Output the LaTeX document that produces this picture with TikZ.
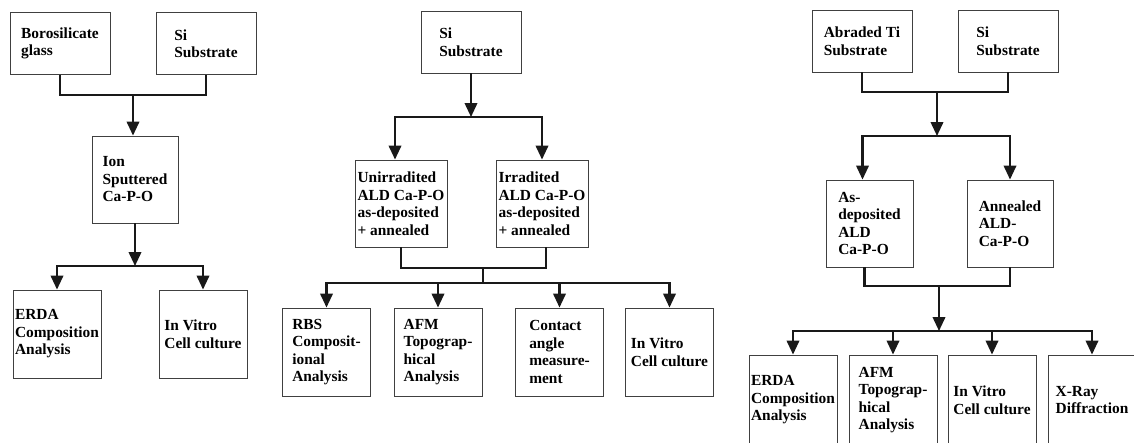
\documentclass[tikz,border=0pt]{standalone}
\usepackage{fontspec}
\setmainfont{Liberation Serif}
\usetikzlibrary{arrows.meta, positioning}

\begin{document}
\begin{tikzpicture}[
        x=1pt, y=-1pt,
        font=\fontsize{15.4}{17.5}\selectfont\bfseries,
        % Define Styles
        box/.style={rectangle, draw=black!75, line width=0.9pt, align=left, inner sep=0pt, minimum width=88pt, minimum height=88pt},
        subbox/.style={box, minimum width=100pt, minimum height=62pt},
        midbox/.style={box, minimum height=87pt},
        line/.style={line width=2.2pt, draw=black!90},
        arrow/.style={line, -{Triangle[length=14pt, width=12.5pt]}}
    ]
    \clip (0,0) rectangle (1134,442);

    % --- PANEL 1 (Ion sputtered) ---
    \node[subbox] (boro) at (60,43.5) {Borosilicate\\glass};
    \node[subbox] (si1) at (206,43.5) {Si\\Substrate};
    \node[midbox, minimum width=86pt] (ion) at (135,179.5) {Ion\\Sputtered\\Ca-P-O};
    \node[box] (erda1) at (57,334) {ERDA\\Composition\\Analysis};
    \node[box] (vitro1) at (203,334) {In Vitro\\Cell culture};

    \coordinate (j1) at (133,95);
    \coordinate (b1) at (135,266);

    \draw[line] (boro.south) |- (j1) -| (si1.south);
    \draw[arrow] (j1) -- (j1 |- ion.north);
    \draw[arrow] (ion.south) -- (b1);
    \draw[arrow] (b1) -| (erda1.north);
    \draw[arrow] (b1) -| (vitro1.north);

    % --- PANEL 2 (ALD on Si) ---
    \node[subbox] (si2) at (471,42) {Si\\Substrate};
    \node[midbox, minimum width=92pt] (unirr) at (401,203.5) {Unirradited\\ALD Ca-P-O\\as-deposited\\+ annealed};
    \node[midbox, minimum width=92pt] (irr) at (542,203.5) {Irradited\\ALD Ca-P-O\\as-deposited\\+ annealed};
    \node[box] (rbs) at (326.5,352) {RBS\\Composit-\\ional\\Analysis};
    \node[box] (afm2) at (438,352) {AFM\\Topograp-\\hical\\Analysis};
    \node[box] (contact) at (559.5,352) {Contact\\angle\\measure-\\ment};
    \node[box] (vitro2) at (669.5,352) {In Vitro\\Cell culture};

    \coordinate (j2) at (471,117);
    \coordinate (j3) at (483,268);
    \coordinate (j4) at (483,283);

    \draw[arrow] (si2.south) -- (j2);
    \draw[arrow] (j2) -| ([xshift=-6pt]unirr.north);
    \draw[arrow] (j2) -| (irr.north);
    \draw[line] (unirr.south) |- (j3) -| ([xshift=4pt]irr.south);
    \draw[line] (j3) -- (j4);
    \foreach \n in {rbs, afm2, contact, vitro2}
        \draw[arrow] (j4) -| (\n.north);

    % --- PANEL 3 (ALD on Ti) ---
    \node[subbox] (abr) at (862,41) {Abraded Ti\\Substrate};
    \node[subbox] (si3) at (1008,41) {Si\\Substrate};
    \node[midbox, minimum width=87pt] (asdep) at (869.5,223.5) {As-\\deposited\\ALD\\Ca-P-O};
    \node[midbox, minimum width=86pt] (ann) at (1010,223.5) {Annealed\\ALD-\\Ca-P-O};
    \node[box, minimum height=90pt] (erda3) at (793,400) {ERDA\\Composition\\Analysis};
    \node[box, minimum height=90pt] (afm3) at (893,400) {AFM\\Topograp-\\hical\\Analysis};
    \node[box, minimum height=90pt] (vitro3) at (992,400) {In Vitro\\Cell culture};
    \node[box, minimum height=90pt] (xray) at (1092,400) {X-Ray\\Diffraction};

    \coordinate (j5) at (937,92);
    \coordinate (j6) at (937,136);
    \coordinate (j7) at (939,286);
    \coordinate (j8) at (939,331);

    \draw[line] (abr.south) |- (j5) -| (si3.south);
    \draw[arrow] (j5) -- (j6);
    \draw[arrow] (j6) -| ([xshift=-7pt]asdep.north);
    \draw[arrow] (j6) -| (ann.north);
    \draw[line] ([xshift=-5pt]asdep.south) |- (j7) -| (ann.south);
    \draw[arrow] (j7) -- (j8);
    \foreach \n in {erda3, afm3, vitro3, xray}
        \draw[arrow] (j8) -| (\n.north);

\end{tikzpicture}
\end{document}
